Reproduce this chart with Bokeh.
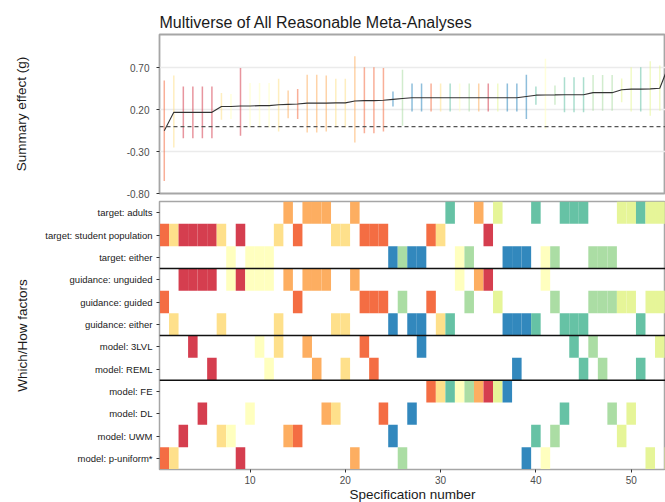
from bokeh.plotting import figure
from bokeh.models import Range1d, FactorRange, FixedTicker, Span, ColumnDataSource
from bokeh.layouts import column
from bokeh.embed import file_html
from bokeh.resources import INLINE

# ---- data ----
spec = list(range(1, 55))
estimate = [-0.05, 0.17, 0.17, 0.17, 0.17, 0.17, 0.24, 0.24, 0.245, 0.245,
            0.25, 0.25, 0.26, 0.265, 0.27, 0.28, 0.28, 0.28, 0.283, 0.283,
            0.305, 0.31, 0.31, 0.315, 0.325, 0.335, 0.345, 0.345, 0.345, 0.345,
            0.345, 0.345, 0.345, 0.345, 0.345, 0.345, 0.345, 0.345, 0.36, 0.375,
            0.377, 0.378, 0.38, 0.38, 0.38, 0.405, 0.405, 0.405, 0.44, 0.447,
            0.447, 0.45, 0.457, 0.75]
ci_low = [-0.65, -0.25, -0.14, -0.14, -0.14, -0.14, 0.08, 0.09, -0.11, -0.01,
          -0.01, -0.01, -0.06, 0.10, 0.09, -0.07, -0.07, -0.06, -0.01, -0.01,
          -0.19, -0.08, -0.08, -0.06, 0.24, 0.01, 0.18, 0.18, 0.18, 0.18,
          0.18, 0.18, 0.18, 0.18, 0.18, 0.18, 0.18, 0.18, 0.09, 0.26,
          -0.03, 0.26, 0.17, 0.17, 0.17, 0.19, 0.19, 0.19, 0.29, 0.18,
          0.18, 0.13, 0.19, 0.40]
ci_high = [0.55, 0.61, 0.48, 0.48, 0.48, 0.48, 0.40, 0.39, 0.70, 0.52,
           0.52, 0.52, 0.57, 0.43, 0.45, 0.62, 0.62, 0.61, 0.57, 0.57,
           0.84, 0.71, 0.71, 0.70, 0.42, 0.68, 0.515, 0.515, 0.515, 0.515,
           0.515, 0.515, 0.515, 0.515, 0.515, 0.515, 0.515, 0.515, 0.62, 0.48,
           0.81, 0.49, 0.59, 0.59, 0.59, 0.615, 0.615, 0.615, 0.575, 0.71,
           0.71, 0.78, 0.73, 1.10]
# target: S=student population, A=adults, E=either
target = list("SSSSSSSESEEESASAAASSASSSEEEESSAEEASAEEEAEEAAAEEEAAAAAA")
# guidance: U=unguided, G=guided, E=either
guidance = list("GEUUUUEUUUUUEUGUUUEEUGGGEGEEGEEUGUUGEEEEUGEEEGGGGGEGG")
guidance.append("G")
model = ["PU", "PU", "UWM", "3LVL", "DL", "REML", "UWM", "UWM", "PU", "DL",
         "3LVL", "REML", "3LVL", "UWM", "UWM", "3LVL", "REML", "DL", "DL", "REML",
         "PU", "3LVL", "REML", "DL", "UWM", "PU", "DL", "3LVL", "FE", "FE",
         "FE", "FE", "FE", "FE", "FE", "FE", "FE", "REML", "PU", "UWM",
         "PU", "UWM", "DL", "3LVL", "REML", "3LVL", "REML", "DL", "UWM", "DL",
         "REML", "PU", "3LVL", "PU"]

rows = ["target: adults", "target: student population", "target: either",
        "guidance: unguided", "guidance: guided", "guidance: either",
        "model: 3LVL", "model: REML", "model: FE", "model: DL", "model: UWM",
        "model: p-uniform*"]
y_ticks = [0.70, 0.20, -0.30, -0.80]
y_tick_labels = ["0.70", "0.20", "-0.30", "-0.80"]
x_ticks = [10, 20, 30, 40, 50]

target_names = {"S": "target: student population", "A": "target: adults", "E": "target: either"}
guidance_names = {"U": "guidance: unguided", "G": "guidance: guided", "E": "guidance: either"}
model_names = {"3LVL": "model: 3LVL", "REML": "model: REML", "FE": "model: FE",
               "DL": "model: DL", "UWM": "model: UWM", "PU": "model: p-uniform*"}
combo_color = {("S", "U"): "#d53e4f", ("S", "G"): "#f46d43", ("A", "U"): "#fdae61",
               ("S", "E"): "#fee08b", ("E", "U"): "#ffffbf", ("A", "G"): "#e6f598",
               ("E", "G"): "#abdda4", ("A", "E"): "#66c2a5", ("E", "E"): "#3288bd"}

colors = [combo_color[(t, g)] for t, g in zip(target, guidance)]
src = ColumnDataSource(dict(
    spec=spec, est=estimate, lo=ci_low, hi=ci_high, color=colors,
    target=[target_names[t] for t in target],
    guidance=[guidance_names[g] for g in guidance],
    model=[model_names[m] for m in model],
))

FONT = "Liberation Sans"
TXT = "#1a1a1a"
XR = Range1d(0.5, 53.6)

# ---- top panel ----
top = figure(frame_width=506, frame_height=159, x_range=XR, y_range=Range1d(-0.8, 1.1),
             output_backend="svg", toolbar_location=None,
             min_border_left=159, min_border_right=0, min_border_top=34, min_border_bottom=7)
top.title.text = "Multiverse of All Reasonable Meta-Analyses"
top.title.text_font = FONT
top.title.text_font_size = "16px"
top.title.text_font_style = "normal"
top.title.text_color = TXT
top.title.standoff = 8
top.outline_line_color = "#a6a6a6"
top.outline_line_width = 1.8
top.xaxis.visible = False
top.xgrid.visible = False
top.ygrid.ticker = FixedTicker(ticks=y_ticks)
top.ygrid.grid_line_color = "#ebebeb"
top.ygrid.grid_line_width = 1.6
top.yaxis.ticker = FixedTicker(ticks=y_ticks)
top.yaxis.major_label_overrides = {t: l for t, l in zip(y_ticks, y_tick_labels)}
top.yaxis.axis_label = "Summary effect (g)"
top.yaxis.axis_label_text_font = FONT
top.yaxis.axis_label_text_font_size = "13.5px"
top.yaxis.axis_label_text_font_style = "normal"
top.yaxis.axis_label_text_color = TXT
top.yaxis.axis_label_standoff = 95
top.yaxis.major_label_text_font = FONT
top.yaxis.major_label_text_font_size = "10px"
top.yaxis.major_label_text_color = "#4d4d4d"
top.yaxis.major_label_standoff = 7
top.yaxis.axis_line_color = None
top.yaxis.major_tick_line_color = "#333333"
top.yaxis.major_tick_out = 3
top.yaxis.major_tick_in = 0
top.yaxis.minor_tick_line_color = None

top.add_layout(Span(location=0, dimension="width", line_color="#555555",
                    line_dash="4 3", line_width=1.2))
top.segment(x0="spec", y0="lo", x1="spec", y1="hi", source=src, line_color="color",
            line_width=1.5, line_alpha=0.55)
top.line(x="spec", y="est", source=src, line_color="#333333", line_width=1.1)

# ---- bottom panel ----
bot = figure(frame_width=506, frame_height=268, x_range=XR,
             y_range=FactorRange(*reversed(rows), range_padding=0, factor_padding=0),
             output_backend="svg", toolbar_location=None,
             min_border_left=159, min_border_right=0, min_border_top=1, min_border_bottom=0)
for col in ("target", "guidance", "model"):
    bot.rect(x="spec", y=col, width=1, height=1, source=src, fill_color="color",
             line_color=None)
for loc in (4, 6, 9):
    bot.add_layout(Span(location=loc, dimension="width", line_color="#111111", line_width=1.5))
bot.outline_line_color = "#a6a6a6"
bot.outline_line_width = 1.5
bot.grid.visible = False
bot.xaxis.ticker = FixedTicker(ticks=x_ticks)
bot.xaxis.axis_label = "Specification number"
bot.yaxis.axis_label = "Which/How factors"
for ax in (bot.xaxis[0], bot.yaxis[0]):
    ax.axis_label_text_font = FONT
    ax.axis_label_text_font_size = "13.5px"
    ax.axis_label_text_font_style = "normal"
    ax.axis_label_text_color = TXT
    ax.major_label_text_font = FONT
    ax.axis_line_color = "#a6a6a6"
    ax.major_tick_line_color = "#333333"
    ax.major_tick_out = 3
    ax.major_tick_in = 0
    ax.minor_tick_line_color = None
bot.xaxis.major_label_text_font_size = "10px"
bot.yaxis.major_label_text_font_size = "9.5px"
bot.xaxis.major_label_text_color = "#4d4d4d"
bot.yaxis.major_label_text_color = "#1a1a1a"
bot.xaxis.major_label_standoff = 3
bot.xaxis.axis_label_standoff = 0
bot.yaxis.major_label_standoff = 4
bot.yaxis.axis_label_standoff = 12

layout = column(top, bot, spacing=0)
open("out.html", "w").write(file_html(layout, INLINE))
